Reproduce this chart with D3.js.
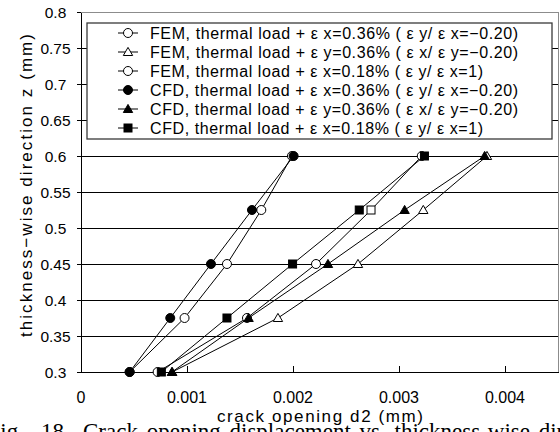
<!DOCTYPE html>
<html>
<head>
<meta charset="utf-8">
<script src="https://cdn.jsdelivr.net/npm/d3@7"></script>
<style>
  html, body { margin: 0; padding: 0; background: #fff; }
  svg { display: block; }
  .sans { font-family: "Liberation Sans", Arial, sans-serif; }
</style>
</head>
<body>
<svg id="chart" width="560" height="432"></svg>
<script>
// Thickness-wise positions z (mm)
const zValues = [0.3, 0.375, 0.45, 0.525, 0.6];

// Crack opening d2 (mm) for each case
const femExNeg = [0.000459, 0.000977, 0.001377, 0.001701, 0.00199];
const femEyNeg = [0.00086, 0.001858, 0.002613, 0.003229, 0.00383];
const femEq = [0.000723, 0.001566, 0.002217, 0.002736, 0.003215];
const cfdExNeg = [0.000459, 0.000842, 0.001226, 0.001613, 0.002006];
const cfdEyNeg = [0.000858, 0.001581, 0.00233, 0.003053, 0.003808];
const cfdEq = [0.000758, 0.001377, 0.001996, 0.002625, 0.00324];

const seriesNames = [
  "FEM, thermal load + \u03b5 x=0.36% ( \u03b5 y/ \u03b5 x=\u22120.20)",
  "FEM, thermal load + \u03b5 y=0.36% ( \u03b5 x/ \u03b5 y=\u22120.20)",
  "FEM, thermal load + \u03b5 x=0.18% ( \u03b5 y/ \u03b5 x=1)",
  "CFD, thermal load + \u03b5 x=0.36% ( \u03b5 y/ \u03b5 x=\u22120.20)",
  "CFD, thermal load + \u03b5 y=0.36% ( \u03b5 x/ \u03b5 y=\u22120.20)",
  "CFD, thermal load + \u03b5 x=0.18% ( \u03b5 y/ \u03b5 x=1)"
];

const xTicks = [0, 0.001, 0.002, 0.003, 0.004];
const xTickLabels = ["0", "0.001", "0.002", "0.003", "0.004"];
const yTicks = [0.3, 0.35, 0.4, 0.45, 0.5, 0.55, 0.6, 0.65, 0.7, 0.75, 0.8];
const yTickLabels = ["0.3", "0.35", "0.4", "0.45", "0.5", "0.55", "0.6", "0.65", "0.7", "0.75", "0.8"];

const seriesValues = [femExNeg, femEyNeg, femEq, cfdExNeg, cfdEyNeg, cfdEq];

// marker style per series: shape and fill
const markerStyles = [
  { shape: "circle", fill: "#fff" },
  { shape: "triangle", fill: "#fff" },
  { shape: "circle", fill: "#fff" },
  { shape: "circle", fill: "#000" },
  { shape: "triangle", fill: "#000" },
  { shape: "square", fill: "#000" }
];
// individual point drawn with a different marker shape (series index -> point index -> shape)
const pointShapeOverride = { 2: { 3: "square" } };

const svg = d3.select("#chart");
const plot = { left: 81, right: 558, top: 12, bottom: 372 };

const x = d3.scaleLinear().domain([0, 0.0045]).range([plot.left, plot.right]);
const y = d3.scaleLinear().domain([0.3, 0.8]).range([plot.bottom, plot.top]);

// gridlines
svg.append("g")
  .selectAll("line")
  .data(yTicks.slice(1, -1))
  .join("line")
  .attr("x1", plot.left).attr("x2", plot.right)
  .attr("y1", d => y(d)).attr("y2", d => y(d))
  .attr("stroke", "#000").attr("stroke-width", 1)
  .attr("shape-rendering", "crispEdges");

// plot frame (top and right in grey)
svg.append("path")
  .attr("d", `M${plot.left},${plot.top}H${plot.right}V${plot.bottom}`)
  .attr("fill", "none").attr("stroke", "#8c8c8c").attr("stroke-width", 1)
  .attr("shape-rendering", "crispEdges");

// x axis: ticks pointing inward
const xAxis = d3.axisBottom(x)
  .tickValues(xTicks)
  .tickSizeInner(-6).tickSizeOuter(0)
  .tickFormat(() => "");
const gx = svg.append("g").attr("transform", `translate(0,${plot.bottom})`).call(xAxis);
gx.select(".domain").attr("stroke", "#000").attr("shape-rendering", "crispEdges");
gx.selectAll(".tick line").attr("stroke", "#000").attr("shape-rendering", "crispEdges");
svg.append("g").attr("class", "sans")
  .selectAll("text")
  .data(xTicks)
  .join("text")
  .attr("x", d => x(d)).attr("y", 403)
  .attr("text-anchor", "middle").attr("font-size", 16)
  .text((d, i) => xTickLabels[i]);

// y axis: ticks pointing outward
const yAxis = d3.axisLeft(y)
  .tickValues(yTicks)
  .tickSizeInner(4).tickSizeOuter(0)
  .tickFormat(() => "");
const gy = svg.append("g").attr("transform", `translate(${plot.left},0)`).call(yAxis);
gy.select(".domain").attr("stroke", "#000").attr("shape-rendering", "crispEdges");
gy.selectAll(".tick line").attr("stroke", "#000").attr("shape-rendering", "crispEdges");
svg.append("g").attr("class", "sans")
  .selectAll("text")
  .data(yTicks)
  .join("text")
  .attr("x", 55.5).attr("y", d => y(d) + 5.5)
  .attr("text-anchor", "middle").attr("font-size", 15.5)
  .text((d, i) => yTickLabels[i]);

// axis titles
svg.append("text").attr("class", "sans")
  .attr("x", 217).attr("y", 422)
  .attr("font-size", 17)
  .attr("textLength", 206).attr("lengthAdjust", "spacing")
  .text("crack opening d2 (mm)");
svg.append("text").attr("class", "sans")
  .attr("transform", "translate(32,337) rotate(-90)")
  .attr("font-size", 17)
  .attr("textLength", 303).attr("lengthAdjust", "spacing")
  .text("thickness\u2212wise direction z (mm)");

// marker drawing helper
function drawMarker(g, shape, cx, cy, fill) {
  if (shape === "circle") {
    g.append("circle").attr("cx", cx).attr("cy", cy).attr("r", 4.5)
      .attr("fill", fill).attr("stroke", "#000").attr("stroke-width", 1);
  } else if (shape === "square") {
    g.append("rect").attr("x", cx - 4).attr("y", cy - 4).attr("width", 8).attr("height", 8)
      .attr("fill", fill).attr("stroke", "#000").attr("stroke-width", 1);
  } else {
    const s = d3.symbol().type(d3.symbolTriangle).size(38)();
    g.append("path").attr("d", s).attr("transform", `translate(${cx},${cy + 0.8})`)
      .attr("fill", fill).attr("stroke", "#000").attr("stroke-width", 1);
  }
}

// series lines and markers
const line = d3.line().x(d => x(d[0])).y(d => y(d[1]));
seriesValues.forEach((vals, si) => {
  const g = svg.append("g");
  const pts = vals.map((v, i) => [v, zValues[i]]);
  g.append("path").attr("d", line(pts))
    .attr("fill", "none").attr("stroke", "#000").attr("stroke-width", 1);
  pts.forEach((p, i) => {
    const shape = (pointShapeOverride[si] && pointShapeOverride[si][i]) || markerStyles[si].shape;
    drawMarker(g, shape, x(p[0]), y(p[1]), markerStyles[si].fill);
  });
});

// legend
const legendTextWidth = [368, 368, 333, 368, 368, 333];
const legend = svg.append("g");
legend.append("rect")
  .attr("x", 87).attr("y", 23).attr("width", 465).attr("height", 116)
  .attr("fill", "#fff").attr("stroke", "#3a3a3a").attr("stroke-width", 1.3);
seriesNames.forEach((name, i) => {
  const cy = 33 + i * 19;
  const row = legend.append("g");
  row.append("line").attr("x1", 118).attr("x2", 138).attr("y1", cy).attr("y2", cy)
    .attr("stroke", "#000").attr("stroke-width", 1);
  drawMarker(row, markerStyles[i].shape, 128, cy, markerStyles[i].fill);
  row.append("text").attr("class", "sans")
    .attr("x", 150).attr("y", cy + 5.5)
    .attr("font-size", 16)
    .attr("textLength", legendTextWidth[i]).attr("lengthAdjust", "spacing")
    .text(name);
});

// figure caption along the bottom edge
const caption = svg.append("text")
  .attr("y", 439)
  .attr("font-family", "'Liberation Serif', 'Times New Roman', serif")
  .attr("font-size", 23);
caption.append("tspan").attr("x", -12.5).text("Fig.");
caption.append("tspan").attr("x", 41).text("18");
caption.append("tspan").attr("x", 83).attr("word-spacing", 3)
  .text("Crack opening displacement vs. thickness-wise direction");
</script>
</body>
</html>
